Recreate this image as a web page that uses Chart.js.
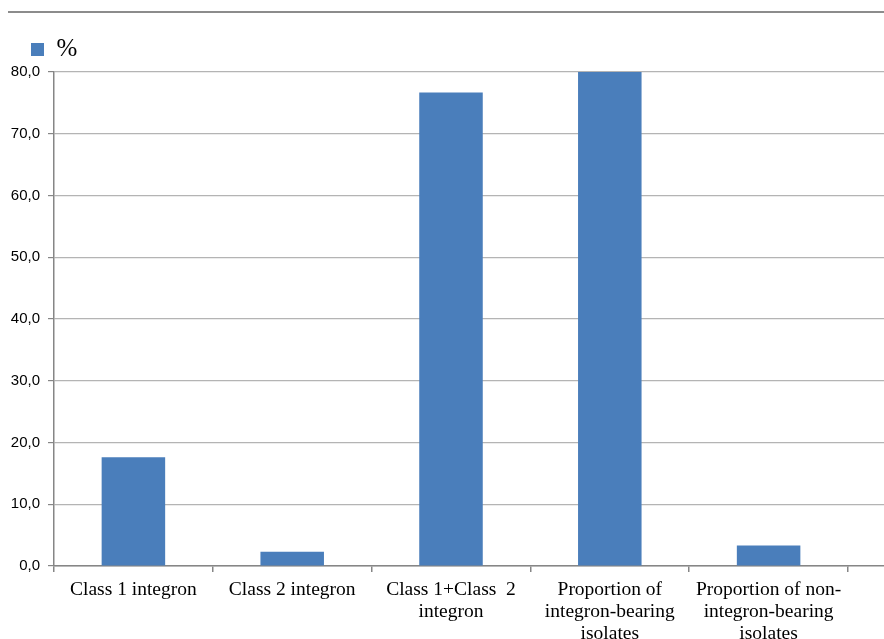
<!DOCTYPE html>
<html>
<head>
<meta charset="utf-8">
<script src="https://cdn.jsdelivr.net/npm/chart.js@4/dist/chart.umd.min.js"></script>
<style>
  html, body { margin: 0; padding: 0; background: #ffffff; overflow: hidden; }
  #wrap { position: relative; width: 884px; height: 639px; }
  #topline { position: absolute; left: 8px; right: 0; top: 11px; height: 2px; background: #8c8c8c; }
  canvas { position: absolute; left: 0; top: 0; }
</style>
</head>
<body>
<div id="wrap">
  <div id="topline"></div>
  <canvas id="c" width="884" height="639"></canvas>
</div>
<script>
const categories = [
  "Class 1 integron",
  "Class 2 integron",
  ["Class 1+Class  2", "integron"],
  ["Proportion of", "integron-bearing", "isolates"],
  ["Proportion of non-", "integron-bearing", "isolates"]
];
const seriesName = "%";
const percentValues = [17.6, 2.3, 76.7, 96.7, 3.3];
const yTicks = [0, 10, 20, 30, 40, 50, 60, 70, 80];

const BLUE = "#4a7ebb";
const AXIS = "#868686";
const GRID = "#b4b4b4";
const SERIF = "'Liberation Serif', 'Times New Roman', serif";
const SANS = "'Liberation Sans', Arial, sans-serif";

// The plot's gridlines and axis run on past the last category to the picture's right edge.
const extendGrid = {
  id: "extendGrid",
  beforeDatasetsDraw(chart) {
    const { ctx, chartArea } = chart;
    const y = chart.scales.y;
    ctx.save();
    y.ticks.forEach(t => {
      const lw = t.value === 0 ? 1.5 : 1.2;
      const half = lw / 2;
      const py = Math.round(y.getPixelForValue(t.value) - half) + half;
      ctx.strokeStyle = t.value === 0 ? AXIS : GRID;
      ctx.lineWidth = lw;
      ctx.beginPath();
      ctx.moveTo(chartArea.right, py);
      ctx.lineTo(chart.width, py);
      ctx.stroke();
    });
    ctx.restore();
  }
};

// Indent the legend a little from the left edge.
const legendIndent = {
  id: "legendIndent",
  afterLayout(chart) {
    if (chart.legend) chart.legend.left += 24;
  }
};

new Chart(document.getElementById("c"), {
  type: "bar",
  data: {
    labels: categories,
    datasets: [{
      label: seriesName,
      data: percentValues,
      backgroundColor: BLUE,
      borderWidth: 0,
      barPercentage: 0.4,
      categoryPercentage: 1.0,
      clip: 0
    }]
  },
  plugins: [extendGrid, legendIndent],
  options: {
    responsive: false,
    animation: false,
    layout: { padding: { left: 0, right: 36, top: 30, bottom: 0 } },
    plugins: {
      tooltip: { enabled: false },
      legend: {
        display: true,
        position: "top",
        align: "start",
        labels: {
          boxWidth: 13,
          boxHeight: 13,
          padding: 7,
          color: "#000",
          font: { family: SERIF, size: 25 }
        }
      }
    },
    scales: {
      x: {
        offset: true,
        border: { display: true, color: AXIS, width: 1.5 },
        grid: { display: true, offset: true, drawOnChartArea: false, drawTicks: true, tickLength: 6, color: AXIS, lineWidth: 1.5 },
        ticks: {
          color: "#000",
          maxRotation: 0,
          autoSkip: false,
          padding: 7,
          font: { family: SERIF, size: 19.5, lineHeight: 1.13 }
        },
        afterFit(scale) { scale.height = 73; }
      },
      y: {
        min: 0,
        max: 80,
        afterBuildTicks(scale) { scale.ticks = yTicks.map(v => ({ value: v })); },
        border: { display: true, color: AXIS, width: 1.5 },
        grid: { color: GRID, lineWidth: 1.2, drawTicks: true, tickLength: 6, tickColor: AXIS },
        ticks: {
          color: "#000",
          padding: 8,
          font: { family: SANS, size: 15 },
          callback: v => Number(v).toFixed(1).replace(".", ",")
        },
        afterFit(scale) { scale.width = 54; }
      }
    }
  }
});
</script>
</body>
</html>
